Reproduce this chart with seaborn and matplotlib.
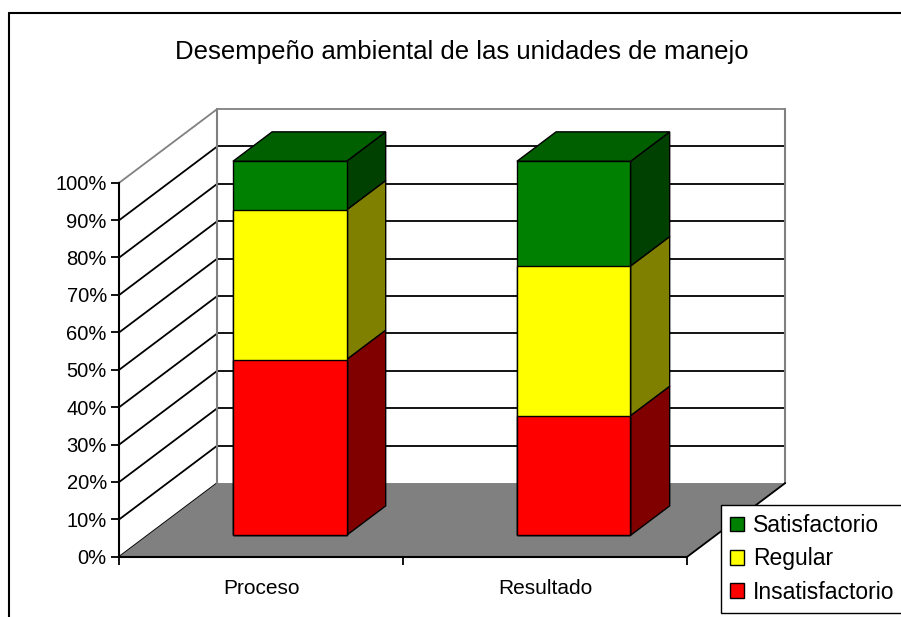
import numpy as np
import pandas as pd
import matplotlib
matplotlib.use("Agg")
import matplotlib.pyplot as plt
import matplotlib.transforms as mtransforms
from matplotlib.patches import Polygon, Patch
from matplotlib.lines import Line2D
import seaborn as sns

# Datos (porcentajes)
categorias = ["Proceso", "Resultado"]
insatisfactorio = [47, 32]
regular = [40, 40]
satisfactorio = [13, 28]
series = ["Insatisfactorio", "Regular", "Satisfactorio"]
ticks_y = list(range(0, 101, 10))
titulo = "Desempeño ambiental de las unidades de manejo"

# Colores: cara frontal, cara lateral, tapa
col_frente = {"Insatisfactorio": "#ff0000", "Regular": "#ffff00", "Satisfactorio": "#008000"}
col_lado = {"Insatisfactorio": "#800000", "Regular": "#808000", "Satisfactorio": "#004000"}
col_tapa = "#006000"

sns.set_style("white")
plt.rcParams["font.family"] = ["Liberation Sans", "DejaVu Sans"]

fig = plt.figure(figsize=(9.01, 6.17), dpi=100)
ax = fig.add_axes([0.1324, 0.0977, 0.6304, 0.6062])
ax.patch.set_visible(False)

# Profundidad del efecto 3D (unidades de datos)
dx, dy = 0.345, 19.7
f0, prof = 0.29, 0.40
ancho = 0.4

df = pd.DataFrame({"categoria": categorias,
                   "Insatisfactorio": insatisfactorio,
                   "Regular": regular,
                   "Satisfactorio": satisfactorio})
acum = df[series].cumsum(axis=1)
base = acum - df[series]

x0, x1 = -0.5, len(categorias) - 0.5

# Paredes (lateral y fondo)
for v in ticks_y:
    c = "#808080" if v == 100 else "black"
    ax.plot([x0, x0 + dx], [v, v + dy], color=c, lw=1.3, zorder=1, clip_on=False)
    if v > 0:
        ax.plot([x0 + dx, x1 + dx], [v + dy, v + dy], color=c, lw=1.3, zorder=1, clip_on=False)
for xx in [x0 + dx, x1 + dx]:
    ax.plot([xx, xx], [dy, 100 + dy], color="#808080", lw=1.5, zorder=1, clip_on=False)

# Piso
piso = Polygon([[x0, 0], [x1, 0], [x1 + dx, dy], [x0 + dx, dy]], closed=True,
               facecolor="#808080", edgecolor="none", zorder=1.5, clip_on=False)
ax.add_patch(piso)
ax.plot([x1, x1 + dx], [0, dy], color="black", lw=1.3, zorder=1.6, clip_on=False)

# Barras apiladas (cara frontal)
n_antes = len(ax.patches)
datos = acum.assign(categoria=categorias)
for s in reversed(series):
    sns.barplot(data=datos, x="categoria", y=s, color=col_frente[s], saturation=1,
                width=ancho, edgecolor="black", linewidth=1.0, errorbar=None,
                ax=ax, zorder=3)
desp = mtransforms.Affine2D().translate(f0 * dx, f0 * dy) + ax.transData
for p in ax.patches[n_antes:]:
    p.set_transform(desp)
    p.set_clip_on(False)

# Caras laterales y tapa
for i, cat in enumerate(categorias):
    xr = i + ancho / 2 + f0 * dx
    xl = i - ancho / 2 + f0 * dx
    for s in series:
        b = base.loc[i, s] + f0 * dy
        t = acum.loc[i, s] + f0 * dy
        ax.add_patch(Polygon([[xr, b], [xr + prof * dx, b + prof * dy],
                              [xr + prof * dx, t + prof * dy], [xr, t]],
                             closed=True, facecolor=col_lado[s], edgecolor="black",
                             lw=1.0, zorder=2.5, clip_on=False))
    top = acum.loc[i, series[-1]] + f0 * dy
    ax.add_patch(Polygon([[xl, top], [xr, top], [xr + prof * dx, top + prof * dy],
                          [xl + prof * dx, top + prof * dy]],
                         closed=True, facecolor=col_tapa, edgecolor="black",
                         lw=1.0, zorder=2.5, clip_on=False))

# Ejes
ax.set_xlim(x0, x1)
ax.set_ylim(0, 100)
ax.set_yticks(ticks_y, [f"{v}%" for v in ticks_y])
ax.set_xticks(range(len(categorias)), categorias)
ax.set_xticks(np.arange(x0, x1 + 0.01, 1), minor=True)
ax.set_xlabel("")
ax.set_ylabel("")
ax.tick_params(axis="x", which="major", bottom=False, length=0, pad=16,
               labelsize=15, labelcolor="black")
ax.tick_params(axis="x", which="minor", bottom=True, length=6, width=1.3,
               direction="out", color="black")
ax.tick_params(axis="y", left=True, length=6, width=1.3, direction="out",
               color="black", pad=3, labelsize=14.5, labelcolor="black")
for sp in ["top", "right"]:
    ax.spines[sp].set_visible(False)
for sp in ["left", "bottom"]:
    ax.spines[sp].set_color("black")
    ax.spines[sp].set_linewidth(1.5)
    ax.spines[sp].set_zorder(4)

# Leyenda
orden = list(reversed(series))
handles = [Patch(facecolor=col_frente[s], edgecolor="black", lw=1.0) for s in orden]
leg = fig.legend(handles, orden, loc="upper left",
                 bbox_to_anchor=(721 / 901, 1 - 505 / 617), fontsize=16.5,
                 frameon=True, fancybox=False, edgecolor="black", framealpha=1,
                 handlelength=0.6, handleheight=0.6, handletextpad=0.4,
                 labelspacing=0.45, borderpad=0.4, borderaxespad=0)
leg.get_frame().set_linewidth(1.0)
for t in leg.get_texts():
    t.set_color("black")

# Titulo
fig.text(461.7 / 901, 1 - 59.3 / 617, titulo, ha="center", va="baseline",
         fontsize=18.5, color="black")

# Marco exterior del grafico
fig.add_artist(Line2D([9 / 901, 1], [1 - 13.3 / 617] * 2, color="black", lw=1.5,
                      transform=fig.transFigure))
fig.add_artist(Line2D([9 / 901] * 2, [0, 1 - 13.3 / 617], color="black", lw=1.5,
                      transform=fig.transFigure))

fig.savefig("out.png", dpi=100)
